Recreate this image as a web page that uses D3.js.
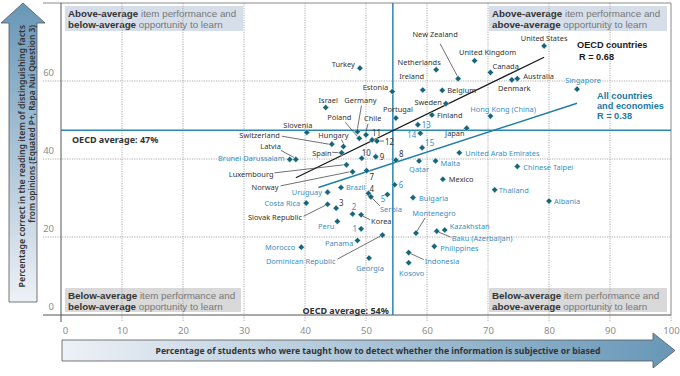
<!DOCTYPE html>
<html><head><meta charset="utf-8">
<script src="https://cdn.jsdelivr.net/npm/d3@7"></script>
<style>body{margin:0;background:#fff}svg{display:block;font-family:"Noto Sans",sans-serif}</style>
</head><body><svg id="c" width="680" height="376"></svg>
<script>
// ---------- DATA ----------
const oecdNames = ["United States","United Kingdom","Netherlands","Turkey","Canada","New Zealand","Australia","Denmark","Ireland","Belgium","Estonia","Sweden","Israel","Finland","Portugal","Japan","Germany","Chile","Poland","Slovenia","11","12","Switzerland","Hungary","Spain","Latvia","10","9","8","Luxembourg","Norway","7","Mexico","4","3","Slovak Republic","Korea"];
const oecdX = [79.2,67.8,61.5,49.0,70.4,65.1,74.8,73.9,59.3,62.5,54.3,63.1,43.4,60.8,54.9,66.5,48.6,50.0,48.9,40.3,51.0,51.8,44.4,46.3,46.0,38.5,49.3,51.6,54.9,46.8,47.8,50.1,62.6,50.4,45.1,43.7,49.2];
const oecdY = [69.0,65.2,62.9,63.3,62.2,60.6,60.6,60.3,57.7,57.6,57.3,54.2,53.2,51.3,50.5,47.9,47.0,46.2,45.3,46.8,44.9,44.6,43.8,43.2,41.6,39.9,40.2,40.6,39.7,38.5,36.7,37.0,34.8,31.2,27.4,28.4,25.7];

const partnerNames = ["Singapore","Hong Kong (China)","13","14","15","United Arab Emirates","Malta","Qatar","Chinese Taipei","Thailand","Albania","Brunei Darussalam","6","5","Serbia","Bulgaria","Brazil","Uruguay","Costa Rica","2","Peru","1","Montenegro","Kazakhstan","Baku (Azerbaijan)","Philippines","Dominican Republic","Panama","Morocco","Georgia","Indonesia","Kosovo"];
const partnerX = [84.6,70.4,58.5,58.9,59.2,65.3,61.4,58.7,74.8,71.1,80.0,37.5,54.7,53.5,50.8,57.7,45.9,43.7,40.2,47.8,45.3,49.2,58.2,62.9,61.6,61.2,52.7,48.6,39.4,50.5,57.0,57.0];
const partnerY = [57.9,51.0,48.8,46.6,42.9,41.6,39.5,39.5,38.1,32.1,29.2,39.9,33.4,30.9,30.3,30.1,32.7,31.5,28.7,25.9,24.0,22.1,21.0,21.8,21.5,17.6,20.5,19.1,17.4,14.6,16.0,13.4];

const xTicks = [0,10,20,30,40,50,60,70,80,90,100];
const yTicks = [0,20,40,60];
const oecdAvgX = 54.4, oecdAvgY = 47.4;
const oecdFitX = [38.5,79.2], oecdFitY = [35.2,66.1];
const allFitX = [42.2,84.6], allFitY = [32.7,54.3];

const xTitle = "Percentage of students who were taught how to detect whether the information is subjective or biased";
const yTitle = ["Percentage correct in the reading item of distinguishing facts","from opinions (Equated P+, Rapa Nui Question 3)"];
const quadrants = [
  [["Above-average"," item performance and"],["below-average"," opportunity to learn"]],
  [["Above-average"," item performance and"],["above-average"," opportunity to learn"]],
  [["Below-average"," item performance and"],["below-average"," opportunity to learn"]],
  [["Below-average"," item performance and"],["above-average"," opportunity to learn"]]
];

// ---------- LAYOUT (label offsets relative to marker: anchor, dx, dy) ----------
const labelPos = {
 "United States":["middle",0,-8],"United Kingdom":["middle",13,-9],"Netherlands":["middle",-17,-8],
 "Turkey":["end",-5,-4],"Canada":["start",2,-7],"New Zealand":["middle",-23,-45],
 "Australia":["start",6,-3],"Denmark":["middle",2.5,8.5],"Ireland":["middle",-11,-14],
 "Belgium":["start",5,0],"Estonia":["end",-4,-5],"Sweden":["end",-4,-2],"Israel":["middle",2.5,-8],
 "Finland":["start",5,0],"Portugal":["middle",2,-9.5],"Japan":["end",-2,5],"Germany":["middle",3,-32],
 "Chile":["start",-2,-16.5],"Poland":["middle",-20,-21],"Slovenia":["middle",-9,-8],
 "11":["start",0,-8],"12":["start",8,0],"Switzerland":["end",-52,-9],"Hungary":["middle",-10,-12],
 "Spain":["end",-10,0],"Latvia":["end",-15,-13],"10":["start",0,-6],"9":["start",4,0],"8":["start",3,-7],
 "Luxembourg":["end",-73,9],"Norway":["end",-74,15],"7":["start",3,6],"Mexico":["start",6,0],
 "4":["start",1,-4.5],"3":["start",3,-6],"Slovak Republic":["end",-25.5,13],"Korea":["start",10,5.8],
 "Singapore":["middle",6,-9],"Hong Kong (China)":["middle",12.7,-7],"13":["start",4,0],"14":["end",-4,1],
 "15":["start",3,-5],"United Arab Emirates":["start",6,0],"Malta":["start",5,2],"Qatar":["middle",0,8],
 "Chinese Taipei":["start",6,0],"Thailand":["start",4,0],"Albania":["start",5,0],
 "Brunei Darussalam":["end",-5,-1],"6":["start",4,0],"5":["end",-2,3.5],"Serbia":["start",9,12.3],
 "Bulgaria":["start",6,0],"Brazil":["start",5,-1],"Uruguay":["end",-5.5,0],"Costa Rica":["end",-6,0],
 "2":["middle",1.5,-8],"Peru":["end",-3,4],"1":["end",-4,0],"Montenegro":["middle",18,-20],
 "Kazakhstan":["start",5,-4],"Baku (Azerbaijan)":["start",15,7],"Philippines":["start",6,2],
 "Dominican Republic":["end",-47,26],"Panama":["end",-4,2],"Morocco":["end",-6,0],"Georgia":["middle",1,10],
 "Indonesia":["start",16,8.5],"Kosovo":["middle",3,10]
};
const leaders = {
 "New Zealand":[-18,-35,-1,-3],"Germany":[4,-26,0,-3],"Chile":[2,-11,0,-3],"Poland":[-14,-16,-2,-2],
 "Switzerland":[-50,-8,-3,0],"Hungary":[-2,-7,0,-3],"Spain":[-9.5,-0.5,-3,0],"Latvia":[-15,-9,-2,-2],
 "12":[3,0,7,0],"Luxembourg":[-72,8,-3,0],"Norway":[-72,14,-3,0],"Slovak Republic":[-24,12,-2,1],
 "Serbia":[1,1,9,9],"Korea":[1,1,9,5],"Dominican Republic":[-45,24,-2,1],"Montenegro":[9,-15,1,-2],
 "Indonesia":[2,1,15,7],"Baku (Azerbaijan)":[2,1,14,6]
};

// ---------- DRAW ----------
const svg = d3.select("#c");
const x = d3.scaleLinear().domain([0,100]).range([61,671]);
const y = d3.scaleLinear().domain([0,80]).range([315,3]);
const TEAL = "#2a87b0", PTXT = "#3a8fc3", DARK = "#333";
const ARIAL = "'Liberation Sans',Arial,sans-serif";

function txt(g, px, py, s, o) {
  const t = g.append("text")
    .attr("transform", `translate(${px},${py}) scale(${o.sx||1},1)`)
    .attr("text-anchor", o.anchor||"start").attr("dominant-baseline","central")
    .style("font-size", o.size+"px").style("font-weight", o.weight||400)
    .attr("fill", o.fill||DARK).text(s);
  if (o.family) t.style("font-family", o.family);
  return t;
}

const defs = svg.append("defs");
const gx = defs.append("linearGradient").attr("id","gx").attr("x1","0").attr("x2","1").attr("y1","0").attr("y2","0");
gx.append("stop").attr("offset","0").attr("stop-color","#eef1f7");
gx.append("stop").attr("offset","1").attr("stop-color","#6797b7");
const gy = defs.append("linearGradient").attr("id","gy").attr("x1","0").attr("x2","0").attr("y1","1").attr("y2","0");
gy.append("stop").attr("offset","0").attr("stop-color","#eef1f7");
gy.append("stop").attr("offset","1").attr("stop-color","#6797b7");

// quadrant boxes
const qBox = [
 {x:x(0)+4, y:y(80)+3, w:178, h:25, fill:"#d6dfe9"},
 {x:x(70)+1, y:y(80)+3, w:178, h:25, fill:"#d6dfe9"},
 {x:x(0)+4, y:y(0)-27, w:176, h:24, fill:"#d9d9d9"},
 {x:x(70)+1, y:y(0)-27, w:178, h:24, fill:"#d9d9d9"}
];
quadrants.forEach((q,i)=>{
  const b = qBox[i];
  svg.append("rect").attr("x",b.x).attr("y",b.y).attr("width",b.w).attr("height",b.h).attr("fill",b.fill);
  q.forEach((ln,j)=>{
    const t = svg.append("text").attr("x",b.x+3).attr("y",b.y+7+j*11).attr("dominant-baseline","central")
      .style("font-size","9.8px").style("font-family",ARIAL);
    t.append("tspan").attr("font-weight",700).attr("fill",DARK).text(ln[0]);
    t.append("tspan").attr("fill","#777").text(ln[1]);
  });
});

// grid
const grid = svg.append("g").attr("stroke","#9a9a9a").attr("stroke-width",0.8).attr("stroke-dasharray","1.2,1.2");
grid.selectAll(".vx").data(xTicks.filter(d=>d>0&&d<100)).join("line")
  .attr("x1",d=>x(d)).attr("x2",d=>x(d)).attr("y1",y(80)).attr("y2",y(0)+7);
grid.selectAll(".hy").data(yTicks.filter(d=>d>0)).join("line")
  .attr("x1",x(0)-18).attr("x2",x(100)).attr("y1",d=>y(d)).attr("y2",d=>y(d));
grid.append("line").attr("x1",x(100)).attr("x2",x(100)).attr("y1",y(0)).attr("y2",y(0)+7);

// frame
svg.append("line").attr("x1",x(0)-18).attr("x2",x(100)).attr("y1",y(80)).attr("y2",y(80)).attr("stroke","#8a8a8a");
svg.append("line").attr("x1",x(100)).attr("x2",x(100)).attr("y1",y(80)).attr("y2",y(0)).attr("stroke","#8a8a8a");

// axes
const ax = svg.append("g").attr("transform",`translate(0,${y(0)})`)
  .call(d3.axisBottom(x).tickValues(xTicks).tickSize(0).tickPadding(12));
ax.select(".domain").remove();
ax.selectAll("text").style("font-size","9.5px").attr("fill","#8c8c8c").style("font-family","'Noto Sans',sans-serif");
ax.selectAll("text").filter(d=>d===0).attr("dx",4);
const ay = svg.append("g").attr("transform",`translate(${x(0)},0)`)
  .call(d3.axisLeft(y).tickValues(yTicks).tickSize(0).tickPadding(7));
ay.select(".domain").remove();
ay.selectAll("text").style("font-size","9.5px").attr("fill","#8c8c8c").attr("dy","-0.55em").style("font-family","'Noto Sans',sans-serif");
svg.append("line").attr("x1",x(0)-18).attr("x2",x(100)).attr("y1",y(0)).attr("y2",y(0)).attr("stroke","#555").attr("stroke-width",1);
svg.append("line").attr("x1",x(0)).attr("x2",x(0)).attr("y1",y(80)).attr("y2",y(0)+7).attr("stroke","#555").attr("stroke-width",1);

// average lines
svg.append("line").attr("x1",x(oecdAvgX)).attr("x2",x(oecdAvgX)).attr("y1",y(80)).attr("y2",y(0)).attr("stroke",TEAL).attr("stroke-width",1.5);
svg.append("line").attr("x1",x(0)).attr("x2",x(100)).attr("y1",y(oecdAvgY)).attr("y2",y(oecdAvgY)).attr("stroke",TEAL).attr("stroke-width",1.5);
txt(svg, x(0)+11, y(oecdAvgY)+9, "OECD average: 47%", {size:9,weight:700,fill:DARK});
txt(svg, x(oecdAvgX)-4, y(0)-5, "OECD average: 54%", {size:9,weight:700,fill:DARK,anchor:"end"});

// regression lines
const line = d3.line().x(d=>x(d[0])).y(d=>y(d[1]));
svg.append("path").attr("d",line(d3.zip(allFitX,allFitY))).attr("stroke","#1f7ea8").attr("stroke-width",1.4).attr("fill","none");
svg.append("path").attr("d",line(d3.zip(oecdFitX,oecdFitY))).attr("stroke","#1a1a1a").attr("stroke-width",1.3).attr("fill","none");

// points
const pts = oecdNames.map((n,i)=>({n, x:oecdX[i], y:oecdY[i], oecd:true}))
  .concat(partnerNames.map((n,i)=>({n, x:partnerX[i], y:partnerY[i], oecd:false})));

// leaders
const lg = svg.append("g").attr("stroke","#333").attr("stroke-width",0.7);
pts.filter(p=>leaders[p.n]).forEach(p=>{
  const L = leaders[p.n], px = x(p.x), py = y(p.y);
  lg.append("line").attr("x1",px+L[0]).attr("y1",py+L[1]).attr("x2",px+L[2]).attr("y2",py+L[3]);
});

// markers
const sym = d3.symbol().type(d3.symbolSquare).size(19);
svg.append("g").selectAll("path").data(pts).join("path")
  .attr("d",sym()).attr("transform",d=>`translate(${x(d.x)},${y(d.y)}) rotate(45)`)
  .attr("fill","#17657a").attr("stroke","#e8f1f4").attr("stroke-width",0.4);

// labels
const tg = svg.append("g");
pts.forEach(p=>{
  const L = labelPos[p.n] || ["start",5,0];
  txt(tg, x(p.x)+L[1], y(p.y)+L[2], p.n, {size: /^\d+$/.test(p.n)?8.5:8, sx:0.93, anchor:L[0], fill: p.oecd?DARK:PTXT});
});

// legend annotations
txt(svg, 577, 45, "OECD countries", {size:9.2,weight:700,fill:"#1a1a1a",family:ARIAL});
txt(svg, 579, 57.3, "R = 0.68", {size:9.2,weight:700,fill:"#1a1a1a",family:ARIAL});
["All countries","and economies","R = 0.38"].forEach((s,i)=>
  txt(svg, 597, 95.5+i*10.4, s, {size:9.2,weight:700,fill:"#2279a8",family:ARIAL}));

// x axis title arrow
svg.append("path").attr("d","M62,340 L653,340 L653,333 L675,350.5 L653,368 L653,361 L62,361 Z")
  .attr("fill","url(#gx)").attr("stroke","#555").attr("stroke-width",0.8);
const xt = txt(svg, 378, 350.5, xTitle, {size:9.5,weight:700,fill:DARK,anchor:"middle"});
(function(){const w = xt.node().getComputedTextLength(); xt.attr("transform",`translate(378,350.5) scale(${445/w},1)`);})();

// y axis title arrow
svg.append("path").attr("d","M9,302 L9,23 L1,23 L23,3 L45,23 L37,23 L37,302 Z")
  .attr("fill","url(#gy)").attr("stroke","#555").attr("stroke-width",0.8);
const yw = [263,198];
yTitle.forEach((s,i)=>{
  const t = svg.append("text").attr("text-anchor","end").attr("dominant-baseline","central")
    .style("font-size","9px").style("font-weight",600).attr("fill",DARK).text(s);
  const w = t.node().getComputedTextLength();
  t.attr("transform",`translate(${21+i*10.5},25) rotate(-90) scale(${yw[i]/w},1)`);
});
</script></body></html>
